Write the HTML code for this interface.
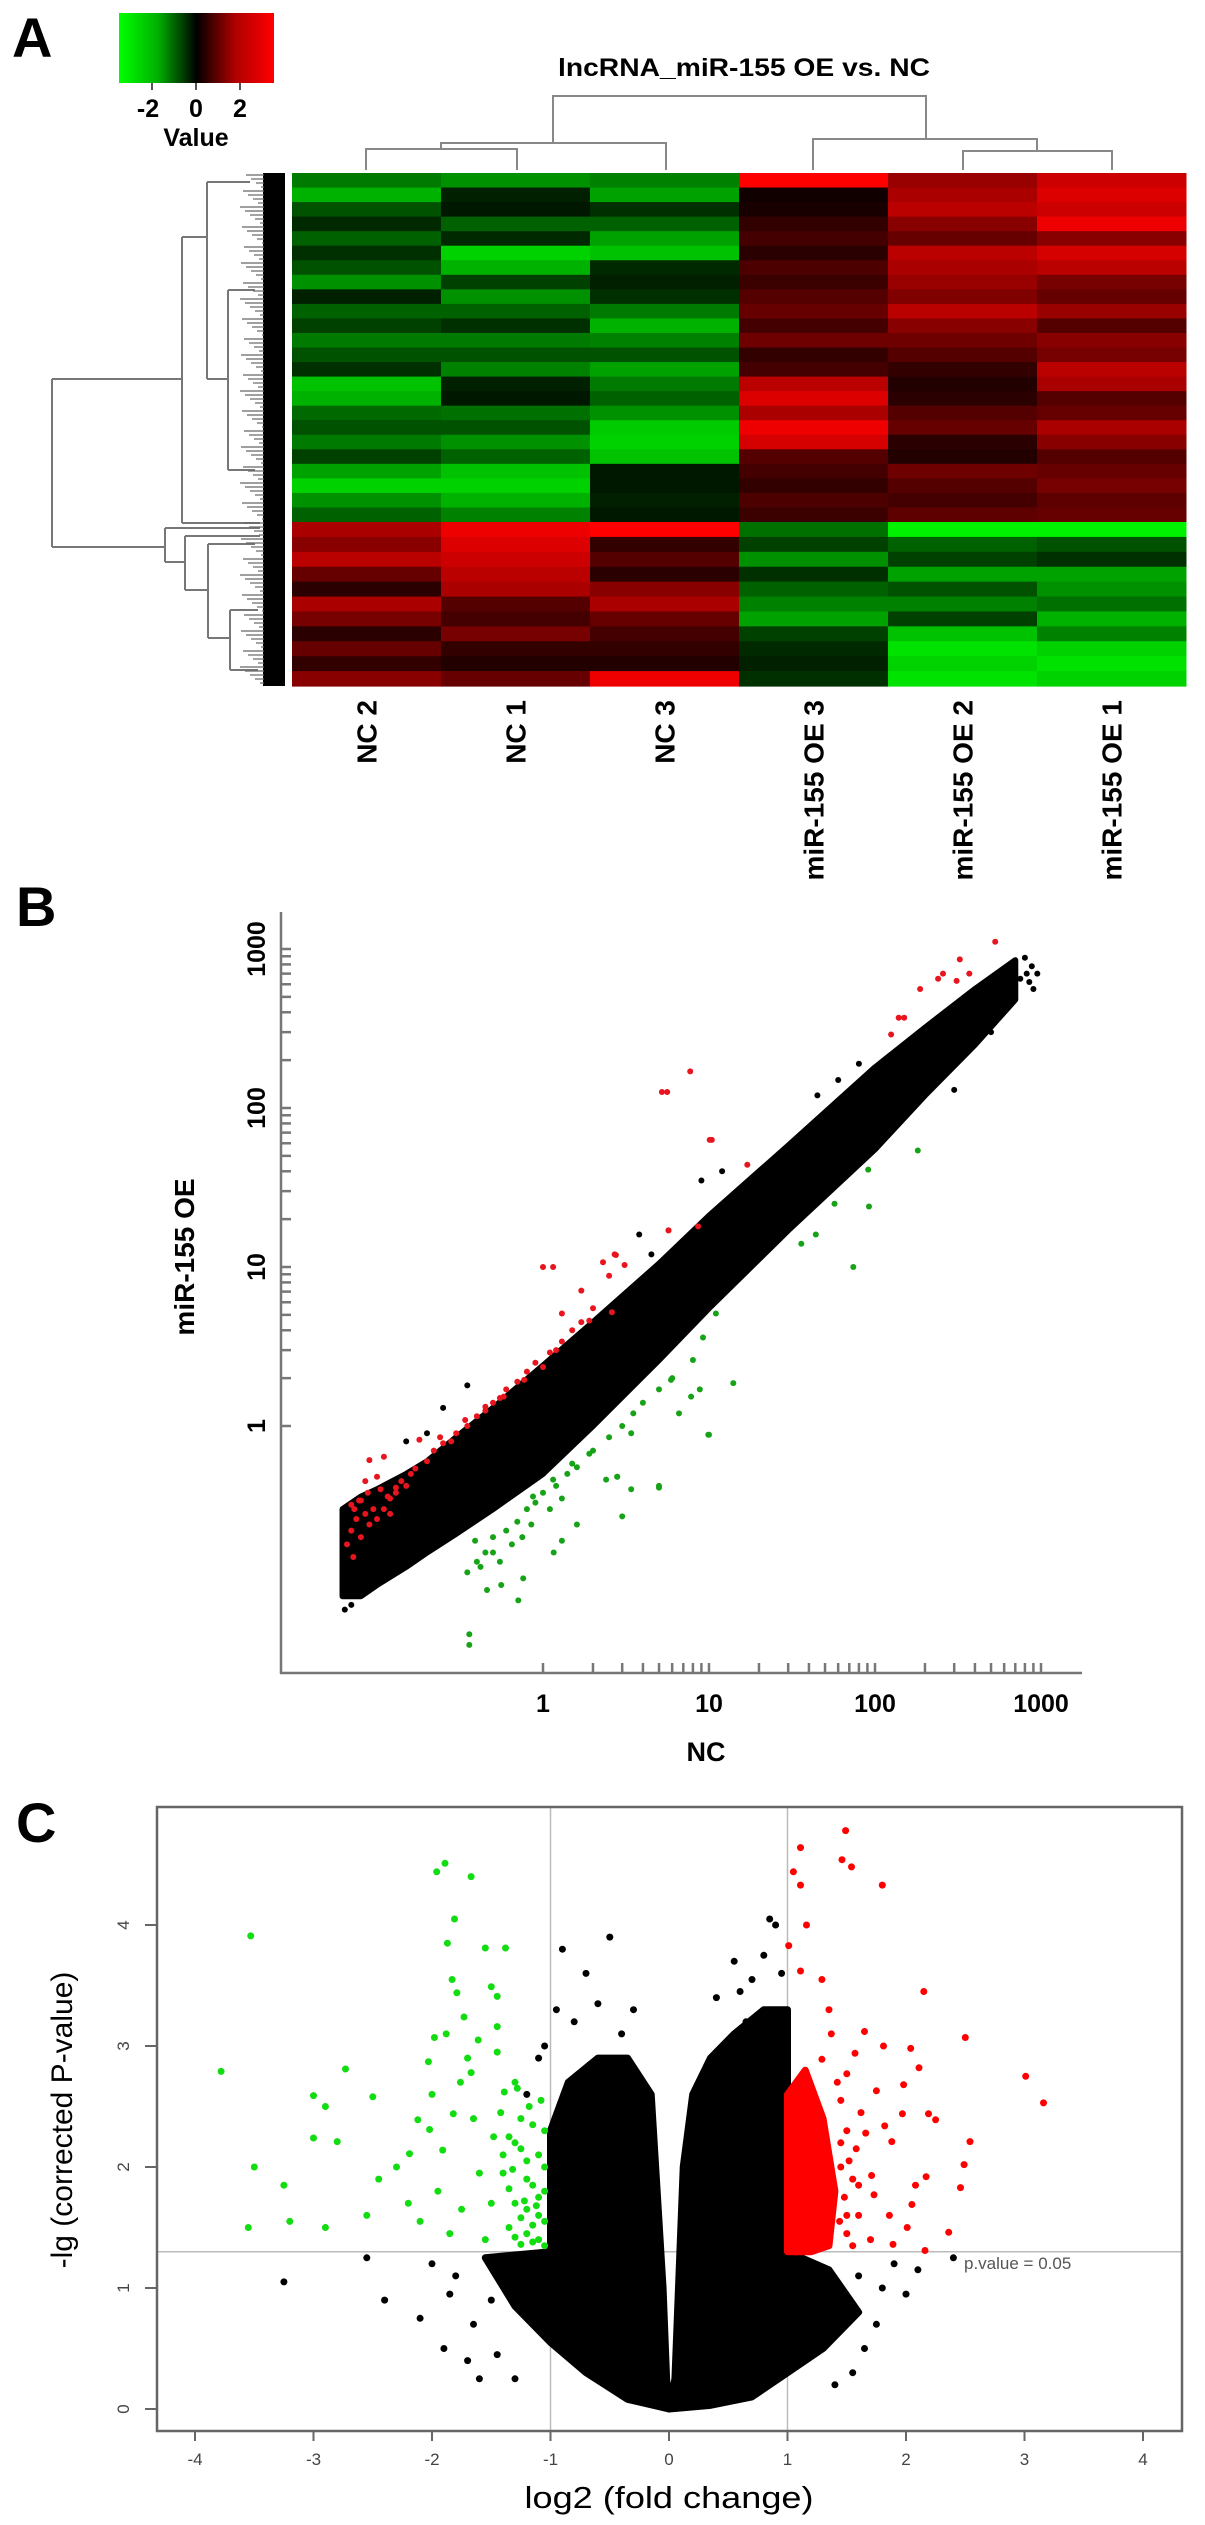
<!DOCTYPE html>
<html><head><meta charset="utf-8"><title>lncRNA miR-155 figure</title>
<style>html,body{margin:0;padding:0;background:#fff}svg{display:block}text{font-family:"Liberation Sans",Arial,sans-serif}</style>
</head><body>
<svg id="fig" xmlns="http://www.w3.org/2000/svg" width="1205" height="2525" viewBox="0 0 1205 2525">
<defs><linearGradient id="cg" x1="0" x2="1" y1="0" y2="0"><stop offset="0" stop-color="#00ff00"/><stop offset="0.25" stop-color="#00b000"/><stop offset="0.5" stop-color="#000"/><stop offset="0.75" stop-color="#b00000"/><stop offset="1" stop-color="#ff0000"/></linearGradient></defs>
<g id="pA">
<text x="12" y="57" font-size="56" font-weight="bold">A</text>
<rect x="119" y="13" width="155" height="70" fill="url(#cg)"/>
<g stroke="#555" stroke-width="2"><line x1="152" y1="83" x2="152" y2="90"/><line x1="196" y1="83" x2="196" y2="90"/><line x1="240" y1="83" x2="240" y2="90"/></g>
<g font-size="25" font-weight="bold" text-anchor="middle"><text x="148" y="117">-2</text><text x="196" y="117">0</text><text x="240" y="117">2</text><text x="196" y="146">Value</text></g>
<text x="744" y="76" font-size="25" font-weight="bold" text-anchor="middle" textLength="372" lengthAdjust="spacingAndGlyphs">lncRNA_miR-155 OE vs. NC</text>
<g id="heat"></g>
<g id="dendro" stroke="#888" stroke-width="2" fill="none">
<path d="M366 170 V149 H517 V170 M441 149 V143 H666 V170 M553 143 V96 H926 V139 M813 170 V139 H1037 V151 M963 170 V151 H1112 V170"/>
</g>
<g id="rdendro" stroke="#777" stroke-width="2" fill="none">
<path d="M52 379 V547 M52 379 H182 M182 237 V523 M182 237 H207 M207 182 V379 M207 182 H250 M207 379 H228 M228 290 V470 M228 290 H255 M228 470 H255 M182 523 H260 M52 547 H165 M165 528 V562 M165 528 H260 M165 562 H185 M185 536 V590 M185 536 H260 M185 590 H208 M208 544 V638 M208 544 H255 M208 638 H230 M230 610 V670 M230 610 H258 M230 670 H258"/>
</g>
<g id="leaves"></g>
<g id="collabels"></g>
</g>
<g id="pB">
<text x="16" y="926" font-size="56" font-weight="bold">B</text>
<g id="bplot"></g>
</g>
<g id="pC">
<text x="16" y="1842" font-size="56" font-weight="bold">C</text>
<g id="cplot"></g>
</g>
</svg>
<script>
// ---------- Panel A data ----------
const sampleNames = ["NC 2","NC 1","NC 3","miR-155 OE 3","miR-155 OE 2","miR-155 OE 1"];
const topNC2 = [-1.5,-2.2,-1.0,-0.5,-1.2,-0.6,-1.0,-1.8,-0.4,-1.2,-0.8,-1.5,-1.0,-0.6,-2.4,-2.2,-1.3,-1.0,-1.5,-0.8,-2.0,-2.6,-1.8,-1.2];
const topNC1 = [-1.8,-0.4,-0.3,-1.2,-0.5,-2.6,-2.2,-0.8,-1.8,-1.2,-0.6,-1.5,-1.0,-1.6,-0.4,-0.3,-1.4,-1.0,-1.8,-1.2,-2.4,-2.6,-2.2,-1.6];
const topNC3 = [-1.6,-2.0,-0.6,-1.2,-2.0,-2.4,-0.5,-0.4,-0.6,-1.5,-2.2,-1.6,-1.0,-2.0,-1.5,-1.2,-1.8,-2.5,-2.6,-2.4,-0.3,-0.3,-0.4,-0.3];
const topOE3 = [3.0,0.2,0.3,0.6,0.8,0.5,0.9,0.7,1.0,1.2,0.8,1.3,0.6,0.8,2.2,2.6,2.0,2.8,2.5,1.0,0.8,0.6,0.9,0.7];
const topOE2 = [1.8,2.0,2.2,1.6,1.2,2.2,2.0,1.8,1.5,2.2,1.6,1.3,1.0,0.6,0.4,0.5,1.0,1.2,0.5,0.4,1.3,1.0,0.8,1.1];
const topOE1 = [2.4,2.6,2.4,2.8,1.6,2.5,2.2,1.4,1.2,1.8,1.0,1.6,1.4,2.2,2.0,1.0,1.2,2.0,1.6,1.0,1.2,1.4,1.1,1.2];
const botNC2 = [2.0,1.6,2.2,1.2,0.5,2.0,1.4,0.5,1.2,0.6,1.6];
const botNC1 = [2.8,2.6,2.4,2.2,2.0,1.0,0.8,1.4,0.6,0.4,1.2];
const botNC3 = [3.0,0.6,1.0,0.5,1.6,2.0,1.2,0.8,0.6,0.4,2.8];
const botOE3 = [-1.4,-0.8,-1.8,-0.6,-1.2,-1.6,-2.0,-0.8,-0.5,-0.4,-0.6];
const botOE2 = [-3.2,-1.2,-0.8,-2.0,-1.0,-1.6,-0.8,-2.4,-2.8,-2.6,-2.8];
const botOE1 = [-3.2,-1.0,-0.6,-2.0,-1.8,-1.4,-2.2,-1.6,-2.6,-2.8,-2.6];

// ---------- Panel B data (NC expression, OE expression) ----------
const bandNC = [0.062,0.08,0.1,0.15,0.2,0.3,0.5,1,2,5,10,30,100,200,400,700];
const bandLo = [0.085,0.085,0.1,0.13,0.16,0.21,0.3,0.5,1.0,2.6,5.5,17,55,120,250,480];
const bandHi = [0.3,0.36,0.4,0.5,0.6,0.85,1.3,2.4,4.5,10.5,21,58,180,320,560,850];
const blackNC = [800,820,850,880,900,750,650,0.35,0.15,0.25,3.8,4.5,9,12,0.2,0.064,0.07,60,80,45,950,300,500];
const blackOE = [880,700,620,780,560,650,460,1.8,0.8,1.3,16,12,35,40,0.9,0.07,0.075,150,190,120,700,130,300];
const redNC = [1.15,1.0,2.3,2.75,1.7,1.3,1.9,1.2,1.0,0.77,0.58,0.45,0.34,0.24,0.18,0.17,0.11,0.09,0.1,0.08,0.073,0.116,0.13,5.7,8.6,5.6,10.1,0.07,0.075,0.08,0.085,0.09,0.095,0.07,0.1,0.11,0.12,0.105,0.13,0.14,0.15,0.16,0.2,0.22,0.25,0.28,0.3,0.35,0.4,0.45,0.5,0.55,0.6,0.7,0.8,0.9,1.1,1.3,1.5,1.7,2.0,0.066,0.072,0.078,0.088,0.12,0.085,530,324,370,257,240,310,187,150,139,125,7.7,5.2,10.4,17,5.7,2.7,3.1,2.5,2.6];
const redOE = [10,10,10.7,11.9,7.1,5.1,4.6,3.0,2.35,1.95,1.53,1.32,1.09,0.85,0.82,0.54,0.64,0.61,0.48,0.34,0.3,0.36,0.41,17,18,126,63,0.22,0.26,0.2,0.28,0.24,0.3,0.32,0.26,0.3,0.35,0.4,0.38,0.45,0.42,0.5,0.6,0.7,0.78,0.8,0.9,1.0,1.15,1.25,1.4,1.5,1.7,1.9,2.2,2.5,2.9,3.4,4,4.5,5.5,0.18,0.15,0.34,0.38,0.28,0.45,1110,860,700,700,650,630,560,370,370,290,170,126,63,44,17,12,10.3,8.8,5.2];
const greenNC = [5.9,14,9.9,3.4,2.4,1.9,1.5,1.15,0.87,2.8,5.0,6.6,9.2,11,0.36,0.36,0.71,0.46,0.56,1.16,1.3,1.6,0.76,0.42,0.5,0.39,181,91,92,74,44,36,57,10,5,3,3.4,2.8,8.8,7.8,0.35,0.4,0.45,0.5,0.6,0.7,0.8,0.9,1.0,1.2,1.4,1.6,2.0,2.5,3,3.5,4,5,6,8,0.55,0.65,0.75,0.85,1.1,1.3];
const greenOE = [1.95,1.86,0.88,0.9,0.46,0.67,0.58,0.46,0.36,0.48,0.41,1.2,3.6,5.1,0.042,0.049,0.08,0.093,0.1,0.16,0.19,0.24,0.11,0.13,0.16,0.19,54,41,24,10,16,14,25,0.88,0.42,0.27,0.4,0.48,1.7,1.53,0.12,0.14,0.16,0.2,0.22,0.25,0.3,0.33,0.38,0.42,0.5,0.55,0.7,0.85,1.0,1.2,1.4,1.7,2.0,2.6,0.14,0.18,0.2,0.24,0.3,0.35];
const bYTicks = [1,10,100,1000];
const bXTicks = [1,10,100,1000];

// ---------- Panel C data (log2 FC, -lg P) ----------
const leftLobeFC = [0,-0.35,-0.7,-1.0,-1.3,-1.55,-1.0,-1.0,-0.85,-0.6,-0.35,-0.15,-0.1,-0.05,-0.02];
const leftLobeP  = [0,0.08,0.3,0.55,0.85,1.25,1.3,2.3,2.7,2.9,2.9,2.6,1.8,1.0,0.25];
const rightLobeFC = [0.05,0.08,0.12,0.2,0.35,0.55,0.8,1.0,1.0,1.35,1.6,1.3,1.0,0.7,0.35,0];
const rightLobeP  = [0.25,1.0,2.0,2.6,2.9,3.1,3.3,3.3,1.3,1.15,0.8,0.5,0.3,0.1,0.03,0];
const redLobeFC = [1.0,1.0,1.15,1.3,1.4,1.35,1.2];
const redLobeP  = [1.3,2.6,2.8,2.4,1.8,1.35,1.3];
const cBlackFC = [-3.25,-2.55,-2.4,-2.1,-1.9,-1.85,-1.7,-1.6,-1.8,-2.0,-1.45,-1.3,-0.9,-0.5,-0.7,-0.6,-0.4,-0.8,-1.05,-0.3,0.55,0.7,0.85,0.9,0.8,0.65,0.4,2.1,2.0,1.8,1.75,1.65,1.55,1.4,1.9,2.4,1.6,-1.1,-1.2,-0.95,0.95,0.6,-1.5,-1.65];
const cBlackP  = [1.05,1.25,0.9,0.75,0.5,0.95,0.4,0.25,1.1,1.2,0.45,0.25,3.8,3.9,3.6,3.35,3.1,3.2,3.0,3.3,3.7,3.55,4.05,4.0,3.75,3.2,3.4,1.15,0.95,1.0,0.7,0.5,0.3,0.2,1.2,1.25,1.1,2.9,2.6,3.3,3.6,3.45,0.9,0.7];
const cRedFC = [1.49,1.11,1.46,1.54,1.05,1.11,1.8,1.16,1.01,1.11,1.29,2.15,2.5,3.01,3.16,2.54,2.49,2.46,2.36,2.16,2.04,1.81,2.11,2.19,2.25,1.97,2.08,2.17,2.05,2.01,1.86,1.82,1.75,1.98,1.88,1.66,1.71,1.73,1.89,1.65,1.37,1.29,1.5,1.57,1.45,1.55,1.6,1.5,1.42,1.62,1.48,1.52,1.7,1.35,1.44,1.45,1.5,1.55,1.6,1.45,1.5,1.58];
const cRedP  = [4.78,4.64,4.54,4.48,4.44,4.33,4.33,4.0,3.83,3.62,3.55,3.45,3.07,2.75,2.53,2.21,2.02,1.83,1.46,1.31,2.98,3.0,2.82,2.44,2.39,2.44,1.85,1.92,1.69,1.5,1.6,2.34,2.63,2.68,2.21,2.28,1.93,1.77,1.36,3.12,3.1,2.89,2.77,2.94,2.2,1.9,1.6,1.45,2.7,2.45,1.75,2.05,1.4,3.3,1.55,2.0,2.3,1.35,1.85,2.55,1.6,2.15];
const cGreenFC = [-3.53,-1.89,-1.96,-1.67,-1.81,-1.87,-1.55,-1.38,-1.83,-1.79,-1.5,-1.45,-1.73,-1.45,-1.88,-1.98,-1.61,-2.03,-3.78,-2.73,-3.0,-2.5,-1.76,-1.67,-3.0,-2.8,-2.12,-1.82,-1.65,-2.02,-1.91,-2.19,-1.48,-1.42,-1.39,-3.55,-3.5,-3.25,-3.2,-2.9,-2.9,-2.55,-2.3,-2.2,-2.45,-2.1,-1.95,-1.85,-1.75,-1.6,-1.55,-1.5,-2.0,-1.7,-1.45,-1.3,
  -1.05,-1.1,-1.15,-1.2,-1.25,-1.3,-1.35,-1.05,-1.1,-1.15,-1.2,-1.25,-1.3,-1.05,-1.1,-1.15,-1.2,-1.35,-1.4,-1.05,-1.1,-1.2,-1.25,-1.3,-1.4,-1.05,-1.15,-1.25,-1.35,-1.08,-1.18,-1.28,-1.12,-1.22,-1.32];
const cGreenP  = [3.91,4.51,4.44,4.4,4.05,3.85,3.81,3.81,3.55,3.44,3.49,3.41,3.24,3.16,3.1,3.07,3.05,2.87,2.79,2.81,2.59,2.58,2.7,2.78,2.24,2.21,2.39,2.44,2.4,2.31,2.14,2.11,2.25,2.45,2.62,1.5,2.0,1.85,1.55,2.5,1.5,1.6,2.0,1.7,1.9,1.55,1.8,1.45,1.65,1.95,1.4,1.7,2.6,2.9,2.95,2.7,
  1.35,1.4,1.38,1.45,1.36,1.42,1.5,1.55,1.6,1.52,1.65,1.58,1.7,1.8,1.75,1.85,1.9,1.82,1.95,2.0,2.1,2.05,2.15,2.2,2.1,2.3,2.35,2.4,2.25,2.55,2.5,2.65,1.68,1.72,1.98];
const cXTicks = [-4,-3,-2,-1,0,1,2,3,4];
const cYTicks = [0,1,2,3,4];
const pThresh = 1.3;
const fcThresh = [-1,1];

const NS = "http://www.w3.org/2000/svg";
function mk(tag, attrs, parent){const e=document.createElementNS(NS,tag);for(const k in attrs)e.setAttribute(k,attrs[k]);parent.appendChild(e);return e;}

// ---------- Heatmap ----------
const heat = document.getElementById('heat');
const hx0=292, colW=149, topY0=173, splitY=522, botY1=686;
const topCols=[topNC2,topNC1,topNC3,topOE3,topOE2,topOE1];
const botCols=[botNC2,botNC1,botNC3,botOE3,botOE2,botOE1];
function col(v){const t=Math.min(1,Math.abs(v)/3);const c=Math.round(255*t);return v>=0?`rgb(${c},0,0)`:`rgb(0,${Math.round(c*0.95)},0)`;}
topCols.forEach((arr,ci)=>{const h=(splitY-topY0)/arr.length;arr.forEach((v,ri)=>{
  const r=mk('rect',{x:hx0+ci*colW,y:(topY0+ri*h).toFixed(2),width:colW+0.5,height:(h+0.6).toFixed(2),fill:col(v)},heat);
  
  
});});
botCols.forEach((arr,ci)=>{const h=(botY1-splitY)/arr.length;arr.forEach((v,ri)=>{
  const r=mk('rect',{x:hx0+ci*colW,y:(splitY+ri*h).toFixed(2),width:colW+0.5,height:(h+0.6).toFixed(2),fill:col(v)},heat);
  
  
});});
const leaves=document.getElementById('leaves');
mk('rect',{x:263,y:173,width:22,height:513,fill:'#000'},leaves);
for(let y=175;y<686;y+=4){mk('line',{x1:240+((y*7)%23),y1:y,x2:264,y2:y,stroke:'#666','stroke-width':1.2},leaves);}
const cl=document.getElementById('collabels');
sampleNames.forEach((n,i)=>{const cx=hx0+colW*i+colW/2+10;
  const t=mk('text',{x:0,y:0,transform:`translate(${cx},700) rotate(-90)`,'font-size':28,'font-weight':'bold','text-anchor':'end'},cl);
  t.textContent=n;
  
  
});

// ---------- Panel B ----------
const bp=document.getElementById('bplot');
const bx=v=>543+166*Math.log10(v), by=v=>1426-159*Math.log10(v);
let pts=bandNC.map((v,i)=>bx(v)+','+by(bandHi[i]));
for(let i=bandNC.length-1;i>=0;i--)pts.push(bx(bandNC[i])+','+by(bandLo[i]));
const band=mk('polygon',{points:pts.join(' '),fill:'#000',stroke:'#000','stroke-width':6,'stroke-linejoin':'round'},bp);


function dots(g,xs,ys,fx,fy,fill,r,name){xs.forEach((v,i)=>{const c=mk('circle',{cx:fx(v).toFixed(1),cy:fy(ys[i]).toFixed(1),r:r,fill:fill},g);
  
  
});}
dots(bp,blackNC,blackOE,bx,by,'#000',3,'point-black');
dots(bp,redNC,redOE,bx,by,'#e8141e',3,'point-up');
dots(bp,greenNC,greenOE,bx,by,'#17a317',3,'point-down');
const bax=mk('g',{stroke:'#777','stroke-width':2.5},bp);
mk('line',{x1:281,y1:912,x2:281,y2:1674},bax);
mk('line',{x1:280,y1:1673,x2:1082,y2:1673},bax);
for(let d=1;d<=1000;d*=10){for(let m=1;m<=9;m++){const v=d*m;if(v>1000)break;
  mk('line',{x1:281,y1:by(v),x2:291,y2:by(v)},bax);
  mk('line',{x1:bx(v),y1:1673,x2:bx(v),y2:1663},bax);}}
bYTicks.forEach(v=>{const t=mk('text',{transform:`translate(265,${by(v)}) rotate(-90)`,'font-size':25,'font-weight':'bold','text-anchor':'middle'},bp);t.textContent=String(v);
  
  });
bXTicks.forEach(v=>{const t=mk('text',{x:bx(v),y:1712,'font-size':25,'font-weight':'bold','text-anchor':'middle'},bp);t.textContent=String(v);
  
  });
let t=mk('text',{transform:'translate(194,1257) rotate(-90)','font-size':28,'font-weight':'bold','text-anchor':'middle'},bp);t.textContent='miR-155 OE';


t=mk('text',{x:706,y:1761,'font-size':27,'font-weight':'bold','text-anchor':'middle'},bp);t.textContent='NC';



// ---------- Panel C ----------
const cp=document.getElementById('cplot');
const cx=v=>669+118.5*v, cy=v=>2409-121*v;
const L=157,R=1182,T=1807,B=2431;
const grid=mk('g',{stroke:'#bbb','stroke-width':1.5},cp);
fcThresh.forEach(v=>mk('line',{x1:cx(v),y1:T,x2:cx(v),y2:B},grid));
mk('line',{x1:L,y1:cy(pThresh),x2:R,y2:cy(pThresh)},grid);
function poly(xs,ys,fill,name){const p=mk('polygon',{points:xs.map((v,i)=>cx(v)+','+cy(ys[i])).join(' '),fill:fill,stroke:fill,'stroke-width':7,'stroke-linejoin':'round'},cp);
  
  }
poly(leftLobeFC,leftLobeP,'#000','dense-points-left');
poly(rightLobeFC,rightLobeP,'#000','dense-points-right');
poly(redLobeFC,redLobeP,'#ff0000','dense-points-up');
dots(cp,cBlackFC,cBlackP,cx,cy,'#000',3.5,'point-black');
dots(cp,cRedFC,cRedP,cx,cy,'#ff0000',3.5,'point-up');
dots(cp,cGreenFC,cGreenP,cx,cy,'#11dd11',3.5,'point-down');
mk('rect',{x:L,y:T,width:R-L,height:B-T,fill:'none',stroke:'#666','stroke-width':2.5},cp);
const cax=mk('g',{stroke:'#666','stroke-width':2},cp);
cXTicks.forEach(v=>{mk('line',{x1:cx(v),y1:B,x2:cx(v),y2:B+10},cax);
  const tt=mk('text',{x:cx(v),y:2465,'font-size':17,fill:'#444','text-anchor':'middle'},cp);tt.textContent=String(v);
  
  });
cYTicks.forEach(v=>{mk('line',{x1:L,y1:cy(v),x2:L-12,y2:cy(v)},cax);
  const tt=mk('text',{transform:`translate(129,${cy(v)}) rotate(-90)`,'font-size':17,fill:'#444','text-anchor':'middle'},cp);tt.textContent=String(v);
  
  });
t=mk('text',{x:964,y:2269,'font-size':17,fill:'#555'},cp);t.textContent='p.value = 0.05';


t=mk('text',{x:669,y:2508,'font-size':31,'text-anchor':'middle',textLength:289,lengthAdjust:'spacingAndGlyphs'},cp);t.textContent='log2 (fold change)';


t=mk('text',{transform:'translate(72,2120) rotate(-90)','font-size':30,'text-anchor':'middle'},cp);t.textContent='-lg (corrected P-value)';


</script>
</body></html>
